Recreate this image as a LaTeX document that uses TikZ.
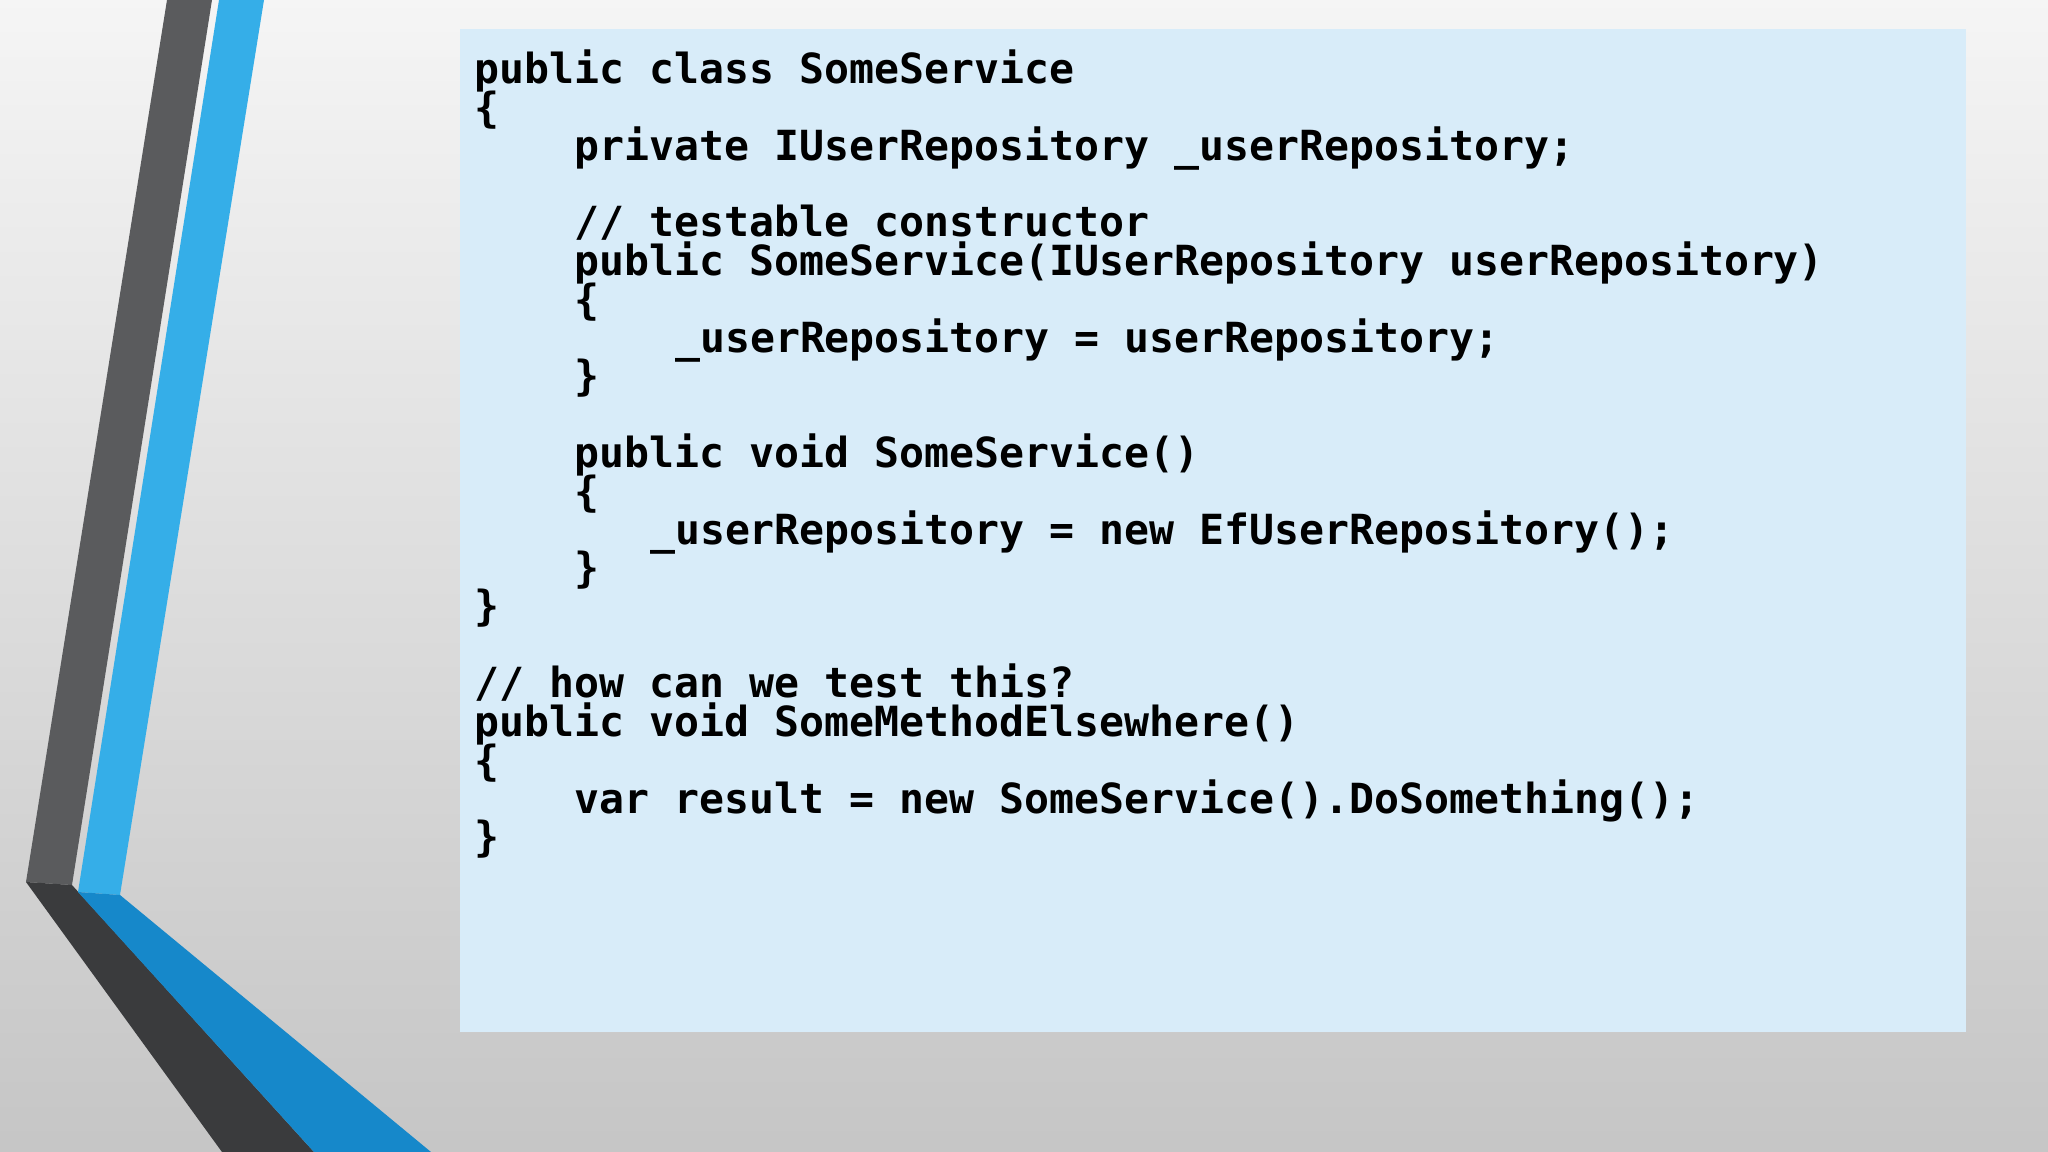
\documentclass[tikz,border=0pt]{standalone}
\usepackage{fontspec}
\newfontfamily\codefont{DejaVu Sans Mono}
\definecolor{boxblue}{HTML}{D8ECF9}
\definecolor{darkA}{HTML}{5A5B5D}
\definecolor{darkB}{HTML}{3A3B3D}
\definecolor{blueA}{HTML}{35AEE8}
\definecolor{blueB}{HTML}{1688CA}
\tikzset{codeline/.style={anchor=base west,inner sep=0pt,font=\codefont\bfseries\fontsize{11.8pt}{12pt}\selectfont}}
\begin{document}
\begin{tikzpicture}[x=0.01cm,y=-0.01cm]
\useasboundingbox (0,0) rectangle (2048,1152);
\shade[top color=white!92!gray,bottom color=gray!45] (0,0) rectangle (2048,1152);
% stripes
\fill[darkA] (167,0) -- (212,0) -- (72,885) -- (26,882) -- cycle;
\fill[darkB] (26,882) -- (72,885) -- (314,1152) -- (222,1152) -- cycle;
\fill[blueA] (219,0) -- (264,0) -- (120,895) -- (78,892) -- cycle;
\fill[blueB] (78,892) -- (120,895) -- (431,1152) -- (314,1152) -- cycle;
% code box
\fill[boxblue] (460,29) rectangle (1966,1032);
\def\cx#1{\fpeval{474+25.1*#1}}
\foreach \n/\i/\c/\t in {
 l1/0/55/{public class SomeService},
 l2/0/85/{\{},
 l3/4/114/{private IUserRepository \_userRepository;},
 l4/4/172/{// testable constructor},
 l5/4/202/{public SomeService(IUserRepository userRepository)},
 l6/4/232/{\{},
 l7/8/261/{\_userRepository = userRepository;},
 l8/4/290/{\}},
 l9/4/349/{public void SomeService()},
 l10/4/379/{\{},
 l11/7/408/{\_userRepository = new EfUserRepository();},
 l12/4/437/{\}},
 l13/0/466/{\}},
 l14/0/525/{// how can we test this?},
 l15/0/555/{public void SomeMethodElsewhere()},
 l16/0/585/{\{},
 l17/4/614/{var result = new SomeService().DoSomething();},
 l18/0/643/{\}}}
 \node[codeline] (\n) at ({474+25.05*\i},{1.306*(\c+9)}) {\t};
\end{tikzpicture}
\end{document}
